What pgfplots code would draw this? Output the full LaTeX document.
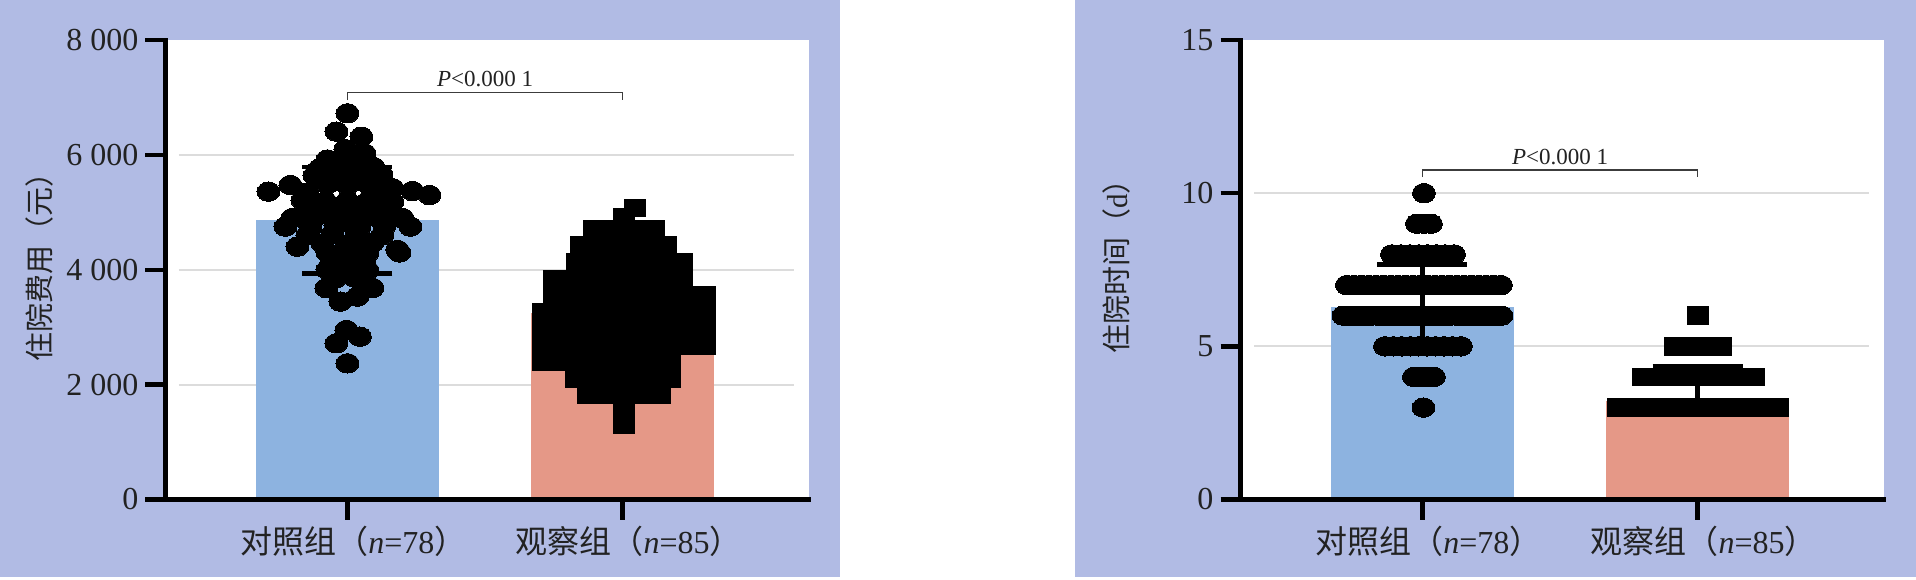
\documentclass[border=0pt]{standalone}
\usepackage{pgfplots}
\pgfplotsset{compat=1.18}
\usepackage{pgfplotstable}
\usepackage{fontspec}
\setmainfont{Liberation Serif}
\newfontfamily\cjk{Noto Sans CJK SC}
\definecolor{panel}{HTML}{B1BBE4}
\definecolor{barblue}{HTML}{8DB3E0}
\definecolor{barred}{HTML}{E59887}
\definecolor{gridc}{HTML}{DCDCDC}
\definecolor{txt}{HTML}{222222}
\definecolor{brk}{HTML}{3C3C3C}

% cost, control group: dx (px offset from group centre), value
\pgfplotstableread{
dx y
0 6724
-11 6404
14 6316
-2 6100
17 6027
-20 5920
0 5880
14 5905
-28 5760
-10 5800
8 5775
26 5790
-33 5640
-15 5665
3 5650
20 5630
34 5660
-57 5475
-20 5490
0 5470
20 5500
45 5420
-79 5359
-40 5340
40 5360
65 5370
82 5300
-45 5210
-22 5190
0 5200
22 5220
45 5180
-40 5050
-20 5070
0 5030
20 5060
40 5040
-55 4900
-33 4920
-11 4880
11 4910
33 4890
55 4900
-62 4750
-37 4730
-12 4770
12 4740
37 4760
63 4750
-40 4600
-15 4620
10 4580
35 4600
-50 4401
-25 4460
0 4440
25 4470
50 4344
-20 4300
0 4310
20 4290
52 4300
-15 4150
2 4160
17 4140
-20 4000
0 4010
20 3990
-12 3850
8 3860
-21 3680
25 3683
10 3531
-7 3444
-1 2951
12.5 2835
-11 2720
0 2371
}\costA

% cost, observation group
\pgfplotstableread{
dx y
12 5078
1 4913
-29 4700
-14 4700
1 4700
16 4700
31 4700
-42 4420
-25 4420
-8 4420
9 4420
26 4420
43 4420
-46 4130
-28.5 4130
-11 4130
6.5 4130
24 4130
41.5 4130
59 4130
-69 3840
-50.7 3840
-32.4 3840
-14.1 3840
4.2 3840
22.5 3840
40.8 3840
59 3840
-69 3550
-50.1 3550
-31.2 3550
-12.4 3550
6.5 3550
25.4 3550
44.3 3550
63.1 3550
82 3550
-80 3260
-59.75 3260
-39.5 3260
-19.25 3260
1 3260
21.25 3260
41.5 3260
61.75 3260
82 3260
-80 2970
-59.75 2970
-39.5 2970
-19.25 2970
1 2970
21.25 2970
41.5 2970
61.75 2970
82 2970
-80 2680
-59.75 2680
-39.5 2680
-19.25 2680
1 2680
21.25 2680
41.5 2680
61.75 2680
82 2680
-80 2400
-61.9 2400
-43.7 2400
-25.6 2400
-7.4 2400
10.7 2400
28.9 2400
47 2400
-47 2110
-28.2 2110
-9.4 2110
9.4 2110
28.2 2110
47 2110
-35 1830
-17 1830
1 1830
19 1830
37 1830
1 1550
1 1300
}\costB

% days, control group
\pgfplotstableread{
dx y
1.5 10
-5.5 9
1.5 9
8.5 9
-30.5 8
-21.6 8
-12.7 8
-3.8 8
5.1 8
14 8
22.9 8
31.5 8
-75.5 7
-68.2 7
-60.8 7
-53.5 7
-46.2 7
-38.8 7
-31.5 7
-24.2 7
-16.8 7
-9.5 7
-2.2 7
5.2 7
12.5 7
19.8 7
27.2 7
34.5 7
41.8 7
49.2 7
56.5 7
63.8 7
71.2 7
78.5 7
-79 6
-73.4 6
-67.7 6
-62.1 6
-56.4 6
-50.8 6
-45.1 6
-39.5 6
-33.9 6
-28.2 6
-22.6 6
-16.9 6
-11.3 6
-5.6 6
0 6
5.6 6
11.3 6
16.9 6
22.6 6
28.2 6
33.9 6
39.5 6
45.1 6
50.8 6
56.4 6
62.1 6
67.7 6
73.4 6
79 6
-37.5 5
-29.1 5
-20.6 5
-12.2 5
-3.7 5
4.7 5
13.2 5
21.6 5
30.1 5
38.5 5
-8.5 4
-1.8 4
4.8 4
11.5 4
1 3
}\dayA

% days, observation group
\pgfplotstableread{
dx y
0.5 6
-23 5
-7.7 5
7.7 5
23 5
-55 4
-41.1 4
-27.1 4
-13.3 4
0.6 4
14.5 4
28.4 4
42.3 4
56 4
-80 3
-77.7 3
-75.4 3
-73.1 3
-70.9 3
-68.6 3
-66.3 3
-64 3
-61.7 3
-59.4 3
-57.1 3
-54.9 3
-52.6 3
-50.3 3
-48 3
-45.7 3
-43.4 3
-41.1 3
-38.9 3
-36.6 3
-34.3 3
-32 3
-29.7 3
-27.4 3
-25.1 3
-22.9 3
-20.6 3
-18.3 3
-16 3
-13.7 3
-11.4 3
-9.1 3
-6.9 3
-4.6 3
-2.3 3
0 3
2.3 3
4.6 3
6.9 3
9.1 3
11.4 3
13.7 3
16 3
18.3 3
20.6 3
22.9 3
25.1 3
27.4 3
29.7 3
32 3
34.3 3
36.6 3
38.9 3
41.1 3
43.4 3
45.7 3
48 3
50.3 3
52.6 3
54.9 3
57.1 3
59.4 3
61.7 3
64 3
66.3 3
68.6 3
70.9 3
73.1 3
75.4 3
77.7 3
80 3
}\dayB

\pgfplotsset{
  panelaxis/.style={
    scale only axis, width=321.75pt, height=229.75pt, anchor=south west,
    xmin=0.339, xmax=2.677, enlargelimits=false, clip=false,
    axis x line=bottom, axis y line=left,
    axis line style={-, line width=2.2pt, black, line cap=rect},
    tick align=outside, major tick length=10pt,
    tick style={line width=2.2pt, black},
    minor tick num=0,
    xtick={1,2},
    xticklabels={{{\cjk 对照组（}\textit{n}=78{\cjk ）}}, {{\cjk 观察组（}\textit{n}=85{\cjk ）}}},
    xticklabel style={font=\fontsize{16}{19}\selectfont, text=txt, xshift=3pt},
    yticklabel style={font=\fontsize{16}{19}\selectfont, text=txt},
    /pgf/number format/assume math mode=true,
    ylabel style={anchor=center, font=\fontsize{14.5}{17}\selectfont, text=txt},
    axis background/.style={fill=white},
    axis on top,
  },
  dotA/.style={only marks, mark=*, mark size=4.85pt, mark options={fill=black, draw=black, line width=0pt, xscale=1.18}},
  dotB/.style={only marks, mark=square*, mark size=4.4pt, mark options={fill=black, draw=black, line width=0pt, xscale=1.19}},
  gridl/.style={gridc, line width=1pt, forget plot},
  ebar/.style={forget plot, mark=none, draw=none},
}

\begin{document}
\begin{tikzpicture}
\useasboundingbox (0,0) rectangle (958pt,289.5pt);
\fill[white] (0,0) rectangle (958pt,289.5pt);
\fill[panel] (0,0.85pt) rectangle (420pt,289.5pt);
\fill[panel] (537.5pt,0.85pt) rectangle (958pt,289.5pt);

% ---------------- left panel: cost ----------------
\begin{axis}[panelaxis, at={(82.75pt,39.75pt)},
  ymin=0, ymax=8000,
  ytick={0,2000,4000,6000,8000},
  yticklabels={0,2 000,4 000,6 000,8 000},
  ylabel={\cjk 住院费用（元）},
  ylabel style={at={(axis description cs:-0.1958,0.522)}}]
\addplot[gridl] coordinates {(0.388,2000) (2.622,2000)};
\addplot[gridl] coordinates {(0.388,4000) (2.622,4000)};
\addplot[gridl] coordinates {(0.388,6000) (2.622,6000)};
\addplot[ybar, bar width=0.665, bar shift=0pt, fill=barblue, draw=none] coordinates {(1,4861)};
\addplot[ybar, bar width=0.665, bar shift=0pt, fill=barred, draw=none] coordinates {(2,3240)};
\addplot[ebar, error bars/.cd, y dir=both, y explicit,
  error bar style={draw=black, line width=2.2pt},
  error mark options={draw=black, rotate=90, mark size=22.5pt, line width=2.2pt}]
  coordinates {(1,4861) +- (0,923) (2,3240) +- (0,800)};
\addplot[dotA] table[x expr=1+\thisrow{dx}/275.25, y=y] {\costA};
\addplot[dotB] table[x expr=2+\thisrow{dx}/275.25, y=y] {\costB};
\draw[brk, line width=0.75pt] (axis cs:1,6954) -- (axis cs:1,7089) -- (axis cs:2,7089) -- (axis cs:2,6954);
\node[anchor=base, font=\fontsize{11.5}{13}\selectfont, text=txt] at (axis cs:1.5,7194) {\textit{P}<0.000 1};
\end{axis}

% ---------------- right panel: days ----------------
\begin{axis}[panelaxis, at={(620.25pt,39.75pt)},
  ymin=0, ymax=15,
  ytick={0,5,10,15},
  yticklabels={0,5,10,15},
  ylabel={{\cjk 住院时间（}d{\cjk ）}},
  ylabel style={at={(axis description cs:-0.1927,0.522)}}]
\addplot[gridl] coordinates {(0.388,5) (2.622,5)};
\addplot[gridl] coordinates {(0.388,10) (2.622,10)};
\addplot[ybar, bar width=0.665, bar shift=0pt, fill=barblue, draw=none] coordinates {(1,6.3)};
\addplot[ybar, bar width=0.665, bar shift=0pt, fill=barred, draw=none] coordinates {(2,3.22)};
\addplot[ebar, error bars/.cd, y dir=both, y explicit,
  error bar style={draw=black, line width=2.2pt},
  error mark options={draw=black, rotate=90, mark size=22.5pt, line width=2.2pt}]
  coordinates {(1,6.3) +- (0,1.37)};
\addplot[ebar, error bars/.cd, y dir=plus, y explicit,
  error bar style={draw=black, line width=2.2pt},
  error mark options={draw=black, rotate=90, mark size=22.5pt, line width=2.2pt}]
  coordinates {(2,3.22) +- (0,1.14)};
\addplot[dotA] table[x expr=1+\thisrow{dx}/275.25, y=y] {\dayA};
\addplot[dotB] table[x expr=2+\thisrow{dx}/275.25, y=y] {\dayB};
\draw[brk, line width=0.75pt] (axis cs:1,10.52) -- (axis cs:1,10.76) -- (axis cs:2,10.76) -- (axis cs:2,10.52);
\node[anchor=base, font=\fontsize{11.5}{13}\selectfont, text=txt] at (axis cs:1.5,10.95) {\textit{P}<0.000 1};
\end{axis}
\end{tikzpicture}
\end{document}
